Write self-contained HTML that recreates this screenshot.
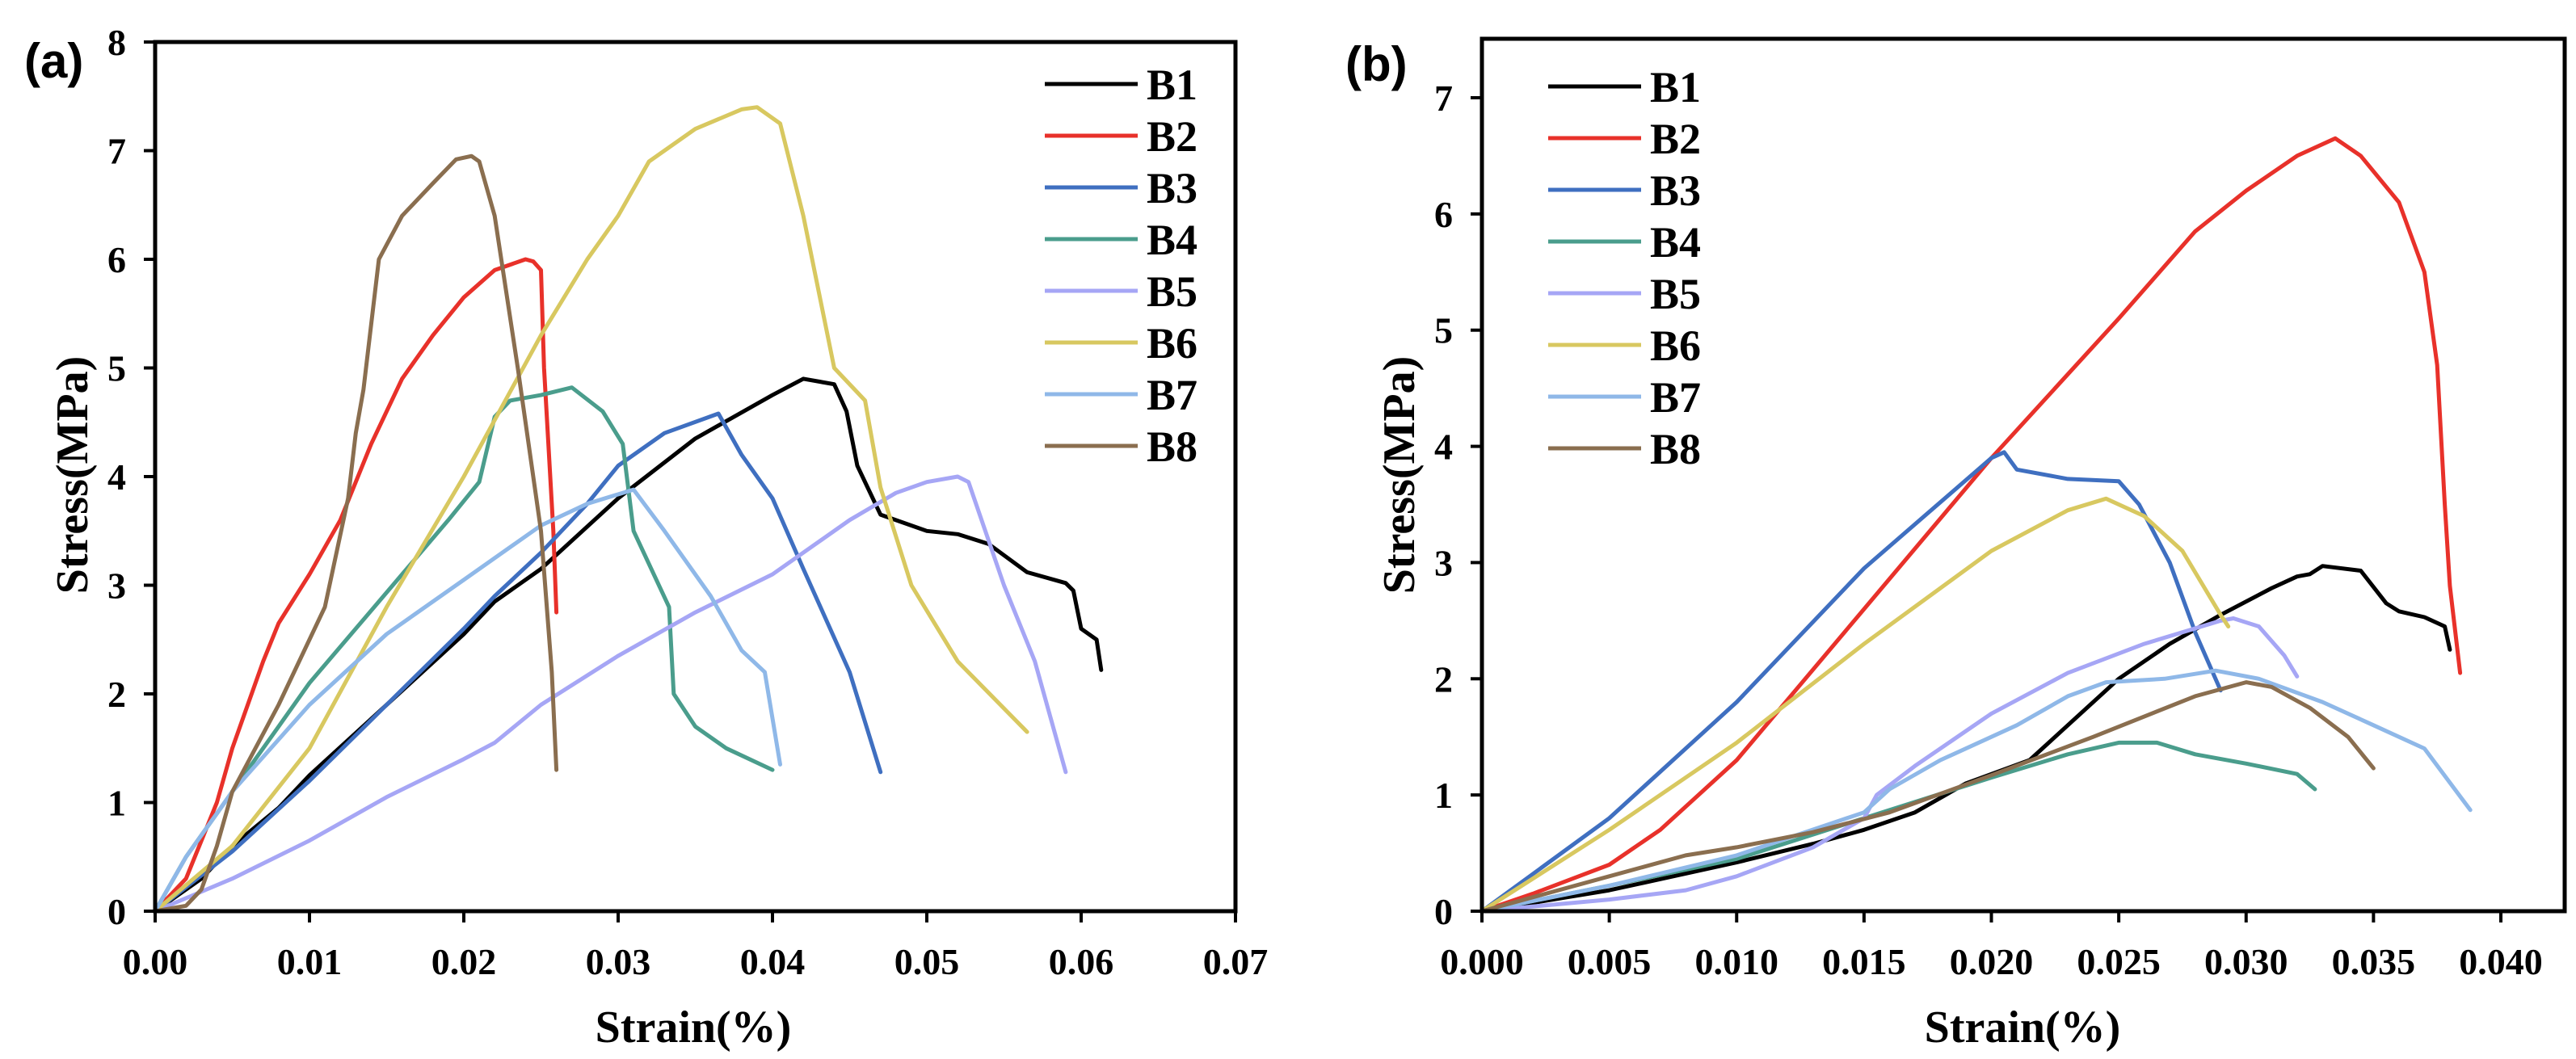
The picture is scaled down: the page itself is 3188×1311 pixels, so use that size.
<!DOCTYPE html>
<html><head><meta charset="utf-8"><style>
html,body{margin:0;padding:0;background:#fff;}
svg{display:block;font-family:"Liberation Serif",serif;font-weight:bold;}
</style></head><body>
<svg id="svg" width="3188" height="1311" viewBox="0 0 3188 1311" xmlns="http://www.w3.org/2000/svg">
<text x="30" y="96" font-family="Liberation Sans, sans-serif" font-size="60" font-weight="bold">(a)</text>
<text x="1665" y="100" font-family="Liberation Sans, sans-serif" font-size="60" font-weight="bold">(b)</text>
<g id="pa"></g>
<g id="pb"></g>
</svg>
<script>
const seriesNames=["B1","B2","B3","B4","B5","B6","B7","B8"];
const colors=["#000000","#e8312a","#3f6fc0","#4a9d8c","#a6a6f5","#d8c860","#8fb8e8","#8a6e4f"];
const aXTicks=[0,0.01,0.02,0.03,0.04,0.05,0.06,0.07];
const aXTickLabels=["0.00","0.01","0.02","0.03","0.04","0.05","0.06","0.07"];
const aYTicks=[0,1,2,3,4,5,6,7,8];
const bXTicks=[0,0.005,0.01,0.015,0.02,0.025,0.03,0.035,0.04];
const bXTickLabels=["0.000","0.005","0.010","0.015","0.020","0.025","0.030","0.035","0.040"];
const bYTicks=[0,1,2,3,4,5,6,7];
const aB1=[[0,0],[0.003,0.3],[0.005,0.6],[0.008,0.95],[0.01,1.25],[0.015,1.9],[0.02,2.55],[0.022,2.85],[0.025,3.15],[0.03,3.8],[0.035,4.35],[0.04,4.75],[0.042,4.9],[0.044,4.85],[0.0448,4.6],[0.0455,4.1],[0.047,3.65],[0.05,3.5],[0.052,3.47],[0.054,3.38],[0.0565,3.12],[0.059,3.02],[0.0595,2.95],[0.060,2.6],[0.061,2.5],[0.0613,2.22]];
const aB2=[[0,0],[0.002,0.3],[0.004,1.0],[0.005,1.5],[0.007,2.3],[0.008,2.65],[0.01,3.1],[0.012,3.6],[0.014,4.3],[0.016,4.9],[0.018,5.3],[0.02,5.65],[0.022,5.9],[0.024,6.0],[0.0245,5.98],[0.025,5.9],[0.0252,5.0],[0.0258,3.5],[0.026,2.75]];
const aB3=[[0,0],[0.005,0.55],[0.01,1.2],[0.015,1.9],[0.02,2.6],[0.022,2.9],[0.025,3.3],[0.028,3.75],[0.03,4.1],[0.033,4.4],[0.0365,4.58],[0.038,4.2],[0.04,3.8],[0.042,3.15],[0.045,2.2],[0.047,1.28]];
const aB4=[[0,0],[0.002,0.5],[0.004,0.9],[0.006,1.3],[0.008,1.7],[0.01,2.1],[0.013,2.6],[0.016,3.1],[0.019,3.6],[0.021,3.95],[0.022,4.55],[0.023,4.7],[0.025,4.75],[0.027,4.82],[0.029,4.6],[0.0303,4.3],[0.031,3.5],[0.0333,2.8],[0.0336,2.0],[0.035,1.7],[0.037,1.5],[0.040,1.3]];
const aB5=[[0,0],[0.005,0.3],[0.01,0.65],[0.015,1.05],[0.02,1.4],[0.022,1.55],[0.025,1.9],[0.03,2.35],[0.035,2.75],[0.04,3.1],[0.045,3.6],[0.048,3.85],[0.05,3.95],[0.052,4.0],[0.0527,3.95],[0.055,3.0],[0.057,2.3],[0.059,1.28]];
const aB6=[[0,0],[0.005,0.6],[0.01,1.5],[0.015,2.8],[0.02,4.0],[0.025,5.3],[0.028,6.0],[0.03,6.4],[0.032,6.9],[0.035,7.2],[0.038,7.38],[0.039,7.4],[0.0405,7.25],[0.042,6.4],[0.043,5.7],[0.044,5.0],[0.046,4.7],[0.047,3.9],[0.049,3.0],[0.052,2.3],[0.0565,1.65]];
const aB7=[[0,0],[0.002,0.5],[0.005,1.1],[0.01,1.9],[0.015,2.55],[0.02,3.05],[0.025,3.55],[0.028,3.75],[0.031,3.88],[0.033,3.5],[0.036,2.9],[0.038,2.4],[0.0395,2.2],[0.0405,1.35]];
const aB8=[[0,0],[0.002,0.05],[0.003,0.2],[0.004,0.6],[0.005,1.1],[0.008,1.9],[0.011,2.8],[0.0125,3.8],[0.013,4.4],[0.0135,4.8],[0.0145,6.0],[0.016,6.4],[0.018,6.7],[0.0195,6.92],[0.0205,6.95],[0.021,6.9],[0.022,6.4],[0.0235,5.0],[0.025,3.5],[0.0257,2.2],[0.026,1.3]];
const bB1=[[0,0],[0.005,0.18],[0.01,0.42],[0.013,0.58],[0.015,0.7],[0.017,0.85],[0.019,1.1],[0.0215,1.3],[0.023,1.6],[0.025,2.0],[0.027,2.3],[0.029,2.55],[0.031,2.78],[0.032,2.88],[0.0325,2.9],[0.033,2.97],[0.0345,2.93],[0.0355,2.65],[0.036,2.58],[0.037,2.53],[0.0378,2.45],[0.038,2.25]];
const bB2=[[0,0],[0.002,0.15],[0.005,0.4],[0.007,0.7],[0.01,1.3],[0.015,2.6],[0.02,3.9],[0.025,5.1],[0.028,5.85],[0.03,6.2],[0.032,6.5],[0.0335,6.65],[0.0345,6.5],[0.036,6.1],[0.037,5.5],[0.0375,4.7],[0.0378,3.5],[0.038,2.8],[0.0384,2.05]];
const bB3=[[0,0],[0.005,0.8],[0.01,1.8],[0.015,2.95],[0.02,3.9],[0.0205,3.95],[0.021,3.8],[0.023,3.72],[0.025,3.7],[0.0258,3.5],[0.027,3.0],[0.028,2.4],[0.029,1.9]];
const bB4=[[0,0],[0.005,0.22],[0.01,0.45],[0.015,0.8],[0.02,1.15],[0.023,1.35],[0.025,1.45],[0.0265,1.45],[0.028,1.35],[0.03,1.27],[0.032,1.18],[0.0327,1.05]];
const bB5=[[0,0],[0.005,0.1],[0.008,0.18],[0.01,0.3],[0.013,0.55],[0.015,0.8],[0.0155,1.0],[0.017,1.25],[0.02,1.7],[0.023,2.05],[0.026,2.3],[0.029,2.5],[0.0295,2.52],[0.0305,2.45],[0.0315,2.2],[0.032,2.02]];
const bB6=[[0,0],[0.005,0.7],[0.01,1.45],[0.015,2.3],[0.02,3.1],[0.023,3.45],[0.0245,3.55],[0.026,3.4],[0.0275,3.1],[0.029,2.55],[0.0293,2.45]];
const bB7=[[0,0],[0.005,0.22],[0.01,0.48],[0.015,0.85],[0.016,1.05],[0.018,1.3],[0.021,1.6],[0.023,1.85],[0.0245,1.97],[0.0268,2.0],[0.0288,2.07],[0.0305,2.0],[0.033,1.8],[0.035,1.6],[0.037,1.4],[0.0388,0.87]];
const bB8=[[0,0],[0.005,0.3],[0.008,0.48],[0.01,0.55],[0.013,0.68],[0.016,0.85],[0.02,1.17],[0.024,1.5],[0.028,1.85],[0.03,1.97],[0.031,1.93],[0.0325,1.75],[0.034,1.5],[0.035,1.23]];
const aSeries=[aB1,aB2,aB3,aB4,aB5,aB6,aB7,aB8];
const bSeries=[bB1,bB2,bB3,bB4,bB5,bB6,bB7,bB8];
const NS="http://www.w3.org/2000/svg";
function mk(parent,tag,attrs,text){const e=document.createElementNS(NS,tag);for(const k in attrs)e.setAttribute(k,attrs[k]);if(text!==undefined)e.textContent=text;parent.appendChild(e);return e;}
function panel(g,cfg){
  const xs=v=>cfg.x0+(v-cfg.xmin)/(cfg.xmax-cfg.xmin)*(cfg.x1-cfg.x0);
  const ys=v=>cfg.y0-(v-cfg.ymin)/(cfg.ymax-cfg.ymin)*(cfg.y0-cfg.y1);
  cfg.series.forEach((s,i)=>{
    const d=s.map((p,j)=>(j?"L":"M")+xs(p[0]).toFixed(1)+","+ys(p[1]).toFixed(1)).join(" ");
    const p=mk(g,"path",{d:d,fill:"none",stroke:colors[i],"stroke-width":5,"stroke-linejoin":"round","stroke-linecap":"round"});
    
    
  });
  const box=mk(g,"rect",{x:cfg.x0,y:cfg.top,width:cfg.right-cfg.x0,height:cfg.y0-cfg.top,fill:"none",stroke:"#000","stroke-width":5});
  
  
  cfg.xticks.forEach((t,i)=>{
    const x=xs(t);
    mk(g,"line",{x1:x,x2:x,y1:cfg.y0,y2:cfg.y0+14,stroke:"#000","stroke-width":4});
    const tl=mk(g,"text",{x:x,y:cfg.y0+78,"text-anchor":"middle","font-size":46},cfg.xlabels[i]);
    
    
  });
  cfg.yticks.forEach(t=>{
    const y=ys(t);
    mk(g,"line",{x1:cfg.x0-14,x2:cfg.x0,y1:y,y2:y,stroke:"#000","stroke-width":4});
    const tl=mk(g,"text",{x:cfg.x0-36,y:y+16,"text-anchor":"end","font-size":46},String(t));
    
    
  });
  const xt=mk(g,"text",{x:cfg.xtX,y:1290,"text-anchor":"middle","font-size":56},"Strain(%)");
  
  
  const yt=mk(g,"text",{x:0,y:0,"text-anchor":"middle","font-size":56,transform:"translate("+cfg.ytX+",588) rotate(-90)"},"Stress(MPa)");
  
  
  seriesNames.forEach((n,i)=>{
    const y=cfg.legY+i*64;
    const lg=mk(g,"g",{});
    
    
    mk(lg,"line",{x1:cfg.legX,x2:cfg.legX+115,y1:y,y2:y,stroke:colors[i],"stroke-width":5});
    mk(lg,"text",{x:cfg.legX+126,y:y+19,"font-size":54},n);
  });
}
panel(document.getElementById("pa"),{x0:192,x1:1529,right:1529,xmin:0,xmax:0.07,y0:1128,y1:52,top:52,ymin:0,ymax:8,
  series:aSeries,xticks:aXTicks,xlabels:aXTickLabels,yticks:aYTicks,xtX:858,ytX:108,legX:1293,legY:104});
panel(document.getElementById("pb"),{x0:1834,x1:3095,right:3174,xmin:0,xmax:0.04,y0:1128,y1:121,top:48,ymin:0,ymax:7,
  series:bSeries,xticks:bXTicks,xlabels:bXTickLabels,yticks:bYTicks,xtX:2503,ytX:1750,legX:1916,legY:107});
</script>
</body></html>
